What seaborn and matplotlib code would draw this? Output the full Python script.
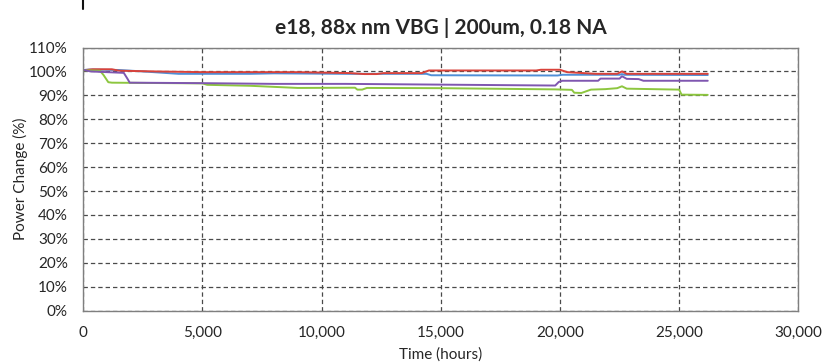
import matplotlib
matplotlib.use("Agg")
import matplotlib.pyplot as plt
from matplotlib.lines import Line2D
import seaborn as sns
import pandas as pd
from matplotlib.ticker import FuncFormatter, MultipleLocator

# Relative output power (%) versus operating time (hours) for four units
blue_t = [0, 300, 1500, 2500, 4000, 7000, 8000, 11000, 14400, 14600, 19900, 20100, 22500, 22600, 22700, 26200]
blue_v = [100.6, 100.8, 100.6, 100.0, 99.0, 99.0, 99.2, 99.0, 99.0, 98.4, 98.3, 98.6, 98.6, 98.9, 98.6, 98.5]

red_t = [0, 400, 1200, 1500, 3000, 5000, 9000, 11200, 11800, 12300, 12600, 14200, 14500, 19000, 19200, 20000, 20300, 21500, 22400, 22600, 22800, 26200]
red_v = [100.5, 100.9, 100.9, 100.3, 100.0, 99.7, 99.7, 99.3, 98.9, 98.9, 99.3, 99.3, 100.4, 100.4, 100.7, 100.7, 99.7, 99.0, 99.0, 100.0, 99.0, 99.0]

green_t = [0, 700, 850, 1050, 1200, 5000, 5200, 7000, 9000, 11400, 11500, 11700, 11900, 15000, 19800, 20500, 20600, 20900, 21300, 21900, 22400, 22600, 22800, 25000, 25100, 26200]
green_v = [100.5, 100.3, 98.5, 95.5, 95.3, 95.0, 94.4, 94.0, 93.1, 93.2, 92.4, 92.4, 93.1, 93.0, 92.5, 92.3, 91.1, 91.0, 92.4, 92.6, 93.0, 93.8, 92.8, 92.4, 90.3, 90.2]

purple_t = [0, 300, 1000, 1700, 1850, 1950, 5000, 8000, 11000, 19800, 19950, 20100, 21600, 21700, 22500, 22600, 22800, 23300, 23500, 26200]
purple_v = [100.7, 100.0, 99.7, 99.4, 97.0, 95.3, 95.1, 94.8, 94.8, 94.1, 95.6, 96.1, 96.1, 97.0, 97.0, 98.0, 96.9, 96.8, 96.1, 96.1]

series_names = ["Blue unit", "Red unit", "Green unit", "Purple unit"]
series_colors = ["#4f8fd6", "#d9423a", "#8dc63f", "#7f56b0"]

title_text = "e18, 88x nm VBG | 200um, 0.18 NA"
x_label = "Time (hours)"
y_label = "Power Change (%)"

frames = []
for name, t, v in zip(series_names,
                      [blue_t, red_t, green_t, purple_t],
                      [blue_v, red_v, green_v, purple_v]):
    frames.append(pd.DataFrame({"time": t, "power": v, "unit": name}))
df = pd.concat(frames, ignore_index=True)

sns.set_theme(style="white")
plt.rcParams["font.family"] = ["Lato", "DejaVu Sans"]

fig = plt.figure(figsize=(8.22, 3.64), dpi=100)
ax = fig.add_axes([0.1013, 0.1464, 0.8699, 0.7231])

sns.lineplot(data=df, x="time", y="power", hue="unit", hue_order=series_names,
             palette=series_colors, linewidth=1.4, legend=False, ax=ax,
             estimator=None, sort=False)

ax.set_xlim(0, 30000)
ax.set_ylim(0, 110)
ax.xaxis.set_major_locator(MultipleLocator(5000))
ax.yaxis.set_major_locator(MultipleLocator(10))
ax.xaxis.set_major_formatter(FuncFormatter(lambda v, p: f"{int(v):,}"))
ax.yaxis.set_major_formatter(FuncFormatter(lambda v, p: f"{int(v)}%"))

ax.grid(True, which="major", axis="both", color="#4a4a4a",
        linestyle=(0, (3.5, 2.4)), linewidth=0.9)
ax.set_axisbelow(True)
for side in ["left", "right", "top", "bottom"]:
    ax.spines[side].set_visible(True)
    ax.spines[side].set_color("#7f7f7f")
    ax.spines[side].set_linewidth(1.0)

ax.tick_params(axis="both", which="both", length=0, labelsize=11,
               labelcolor="#262626")
ax.tick_params(axis="y", pad=11)
ax.tick_params(axis="x", pad=11)
ax.set_xlabel(x_label, fontsize=11, color="#262626", labelpad=5)
ax.set_ylabel(y_label, fontsize=11, color="#262626", labelpad=1)
ax.set_title(title_text, fontsize=15, fontweight="bold", color="#262626", pad=10)

# short dark stroke at the top edge above the left axis
fig.add_artist(Line2D([0.1013, 0.1013], [1.0, 0.975], transform=fig.transFigure,
                      color="#111111", linewidth=1.5))

fig.savefig("out.png", dpi=100)
